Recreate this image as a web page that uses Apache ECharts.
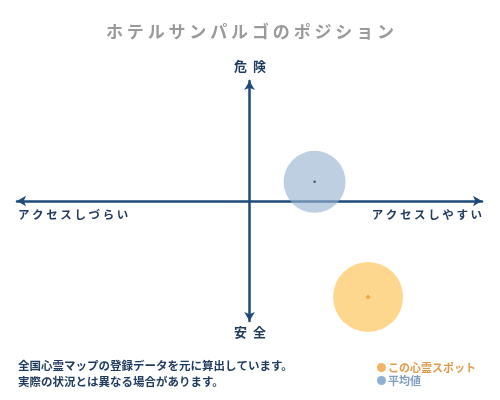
<!DOCTYPE html>
<html>
<head>
<meta charset="utf-8">
<script src="https://cdn.jsdelivr.net/npm/echarts@6/dist/echarts.min.js"></script>
<style>
html,body{margin:0;padding:0;background:#fff;}
#main{width:500px;height:400px;}
</style>
</head>
<body>
<div id="main"></div>
<script>
const chartTitle = 'ホテルサンパルゴのポジション';
const seriesNames = ['この心霊スポット', '平均値'];
const xValues = [51, 28];
const yValues = [-80, 16];
const bubbleSizes = [70, 62];
const yAxisEnds = ['安全', '危険'];
const xAxisEnds = ['アクセスしづらい', 'アクセスしやすい'];
const noteLines = ['全国心霊マップの登録データを元に算出しています。', '実際の状況とは異なる場合があります。'];

const FONT = '"Noto Sans CJK JP", "Noto Sans", sans-serif';
const NAVY = '#1d4a78';
const TXT = '#1f3a5f';
const bubbleColors = ['rgba(253,196,90,0.85)', 'rgba(150,178,208,0.78)'];
const dotColors = ['#f29a1c', '#1f3a5f'];
const legendColors = ['#f0a040', '#6f9bc8'];
const legendText = ['#e39a4a', '#7f9fbf'];

function spaced(s, sep) { return s.split('').join(sep); }

const chart = echarts.init(document.getElementById('main'));
const series = [];
seriesNames.forEach(function (name, i) {
  series.push({
    name: name,
    type: 'scatter',
    data: [[xValues[i], yValues[i], bubbleSizes[i]]],
    symbolSize: function (v) { return v[2]; },
    itemStyle: { color: bubbleColors[i] },
    emphasis: { disabled: true },
    z: 2
  });
  series.push({
    name: name + '_c',
    type: 'scatter',
    data: [[xValues[i], yValues[i]]],
    symbol: i === 0 ? 'diamond' : 'circle',
    symbolSize: i === 0 ? 5 : 2.5,
    itemStyle: { color: dotColors[i] },
    emphasis: { disabled: true },
    z: 3
  });
});

chart.setOption({
  animation: false,
  backgroundColor: '#fff',
  title: {
    text: spaced(chartTitle, ' '),
    left: 'center',
    top: 18,
    textStyle: { fontFamily: FONT, fontSize: 17, fontWeight: 'bold', color: '#9a9a9a' }
  },
  grid: { left: 17, right: 18, top: 81, bottom: 79 },
  xAxis: {
    type: 'value', min: -100, max: 100,
    axisLine: { onZero: true, symbol: ['arrow', 'arrow'], symbolSize: [8, 9], lineStyle: { color: NAVY, width: 2.5 } },
    axisTick: { show: false }, axisLabel: { show: false }, splitLine: { show: false }
  },
  yAxis: {
    type: 'value', min: -100, max: 100,
    axisLine: { onZero: true, symbol: ['arrow', 'arrow'], symbolSize: [8, 9], lineStyle: { color: NAVY, width: 2.5 } },
    axisTick: { show: false }, axisLabel: { show: false }, splitLine: { show: false }
  },
  legend: {
    orient: 'vertical',
    left: 372,
    top: 357,
    itemGap: 2,
    itemWidth: 9,
    itemHeight: 9,
    icon: 'circle',
    textStyle: { fontFamily: FONT, fontSize: 11, fontWeight: 'bold', padding: [0, 0, 0, -3] },
    data: seriesNames.map(function (n, i) {
      return { name: n, itemStyle: { color: legendColors[i] }, textStyle: { color: legendText[i] } };
    }),
    selectedMode: false
  },
  graphic: [
    { type: 'text', left: 'center', top: 60, style: { text: spaced(yAxisEnds[1], '  '), font: 'bold 13px ' + FONT, fill: TXT } },
    { type: 'text', left: 'center', top: 326, style: { text: spaced(yAxisEnds[0], '  '), font: 'bold 13px ' + FONT, fill: TXT } },
    { type: 'text', left: 18, top: 209, style: { text: spaced(xAxisEnds[0], ' '), font: 'bold 11.5px ' + FONT, fill: TXT } },
    { type: 'text', right: 18, top: 209, style: { text: spaced(xAxisEnds[1], ' '), font: 'bold 11.5px ' + FONT, fill: TXT } },
    { type: 'text', left: 18, top: 360, style: { text: noteLines[0], font: 'bold 11.5px ' + FONT, fill: TXT } },
    { type: 'text', left: 18, top: 376, style: { text: noteLines[1], font: 'bold 11.5px ' + FONT, fill: TXT } }
  ],
  series: series
});
</script>
</body>
</html>
